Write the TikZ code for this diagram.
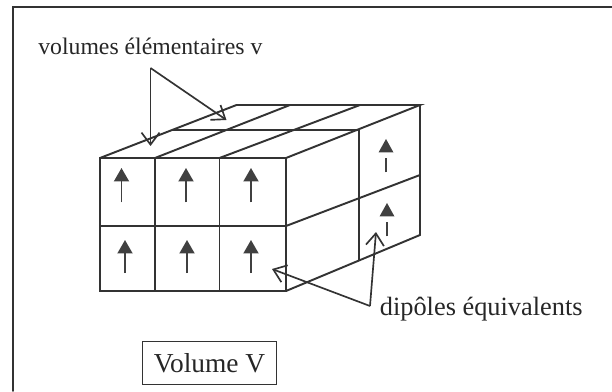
\documentclass[tikz,border=0pt]{standalone}
\usepackage{fontspec}
\setmainfont{Liberation Serif}
\usetikzlibrary{arrows.meta}

\tikzset{
  trait/.style={line width=1.1pt, draw=black!80, line cap=round},
  fleche/.style={line width=0.95pt, draw=black!80, -{Straight Barb[length=2.4mm, width=3.6mm]}},
  dipole/.style={line width=1.1pt, draw=black!75, -{Triangle[length=2.7mm, width=3mm]}},
  tige/.style={line width=1.1pt, draw=black!75},
  tete/.style={fill=black!75},
  legende/.style={anchor=base west, inner sep=0pt, text=black!85}
}

\begin{document}
\begin{tikzpicture}
  \useasboundingbox (0,0) rectangle (12.24,7.82);
  % cadre
  \draw[trait] (0.26,0) -- (0.26,7.68) -- (12.24,7.68);
  % face avant
  \draw[trait] (2,2) rectangle (5.72,4.66);
  \draw[trait] (2,3.3) -- (5.72,3.3);
  \draw[trait] (3.1,2) -- (3.1,4.66);
  \draw[trait] (4.39,2) -- (4.39,4.66);
  % face du dessus
  \draw[trait] (2,4.66) -- (4.73,5.72) -- (8.4,5.72) -- (5.72,4.66);
  \draw[trait] (3.1,4.66) -- (5.8,5.72);
  \draw[trait] (4.39,4.66) -- (7.2,5.72);
  \draw[trait] (3.46,5.22) -- (7.18,5.22);
  % face de droite
  \draw[trait] (8.4,5.72) -- (8.4,3.12) -- (5.72,2);
  \draw[trait] (5.72,3.3) -- (8.4,4.32);
  \draw[trait] (7.18,5.22) -- (7.18,2.62);
  % dipoles de la face avant
  \draw[dipole] (2.43,3.77) -- (2.43,4.46);
  \draw[dipole] (3.72,3.77) -- (3.72,4.46);
  \draw[dipole] (5.02,3.77) -- (5.02,4.46);
  \draw[dipole] (2.5,2.36) -- (2.5,3.02);
  \draw[dipole] (3.74,2.36) -- (3.74,3.02);
  \draw[dipole] (5.02,2.36) -- (5.02,3.02);
  % dipoles de la face de droite
  \fill[tete] (7.57,4.77) -- (7.87,4.77) -- (7.72,5.04) -- cycle;
  \draw[tige] (7.72,4.37) -- (7.72,4.66);
  \fill[tete] (7.59,3.49) -- (7.89,3.49) -- (7.74,3.76) -- cycle;
  \draw[tige] (7.74,3.09) -- (7.74,3.37);
  % legendes
  \node[legende, font=\fontsize{13.5}{16}\selectfont] (volumes) at (0.76,6.72) {volumes élémentaires v};
  \node[legende, font=\fontsize{15}{18}\selectfont] (dipoles) at (7.59,1.52) {dipôles équivalents};
  \node[draw=black!80, line width=0.8pt, minimum width=2.69cm, minimum height=0.85cm, inner sep=0pt, font=\fontsize{15.6}{18}\selectfont, text=black!85] (volume) at (4.19,0.56) {Volume V};
  % fleches vers les volumes
  \coordinate (apexv) at (3.01,6.46);
  \coordinate (cellA) at (3.01,4.9);
  \coordinate (cellB) at (4.53,5.42);
  \draw[fleche] (apexv) -- (cellA);
  \draw[fleche] (apexv) -- (cellB);
  % fleches vers les dipoles
  \coordinate (apexd) at (7.4,1.7);
  \coordinate (dipA) at (5.44,2.44);
  \coordinate (dipB) at (7.52,3.18);
  \draw[fleche] (apexd) -- (dipA);
  \draw[fleche] (apexd) -- (dipB);
\end{tikzpicture}
\end{document}
